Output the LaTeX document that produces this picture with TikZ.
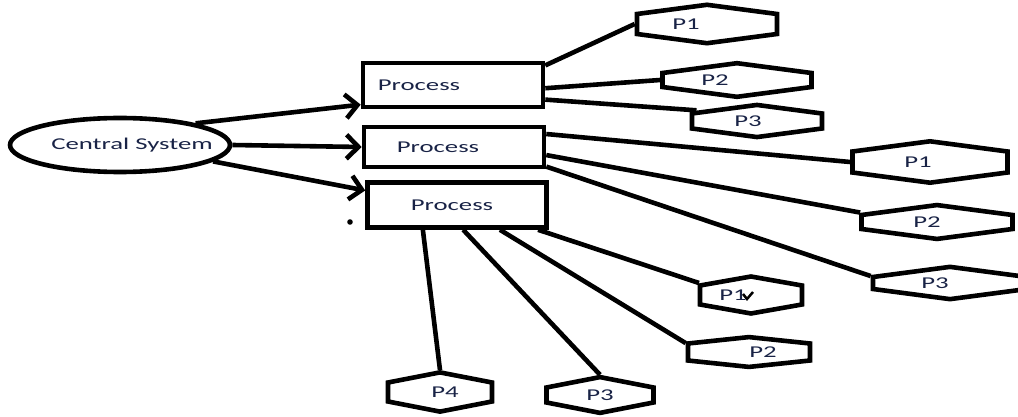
\documentclass[tikz,border=0pt]{standalone}
\usepackage{fontspec}
\newfontfamily\sketchfont[FakeStretch=1.62]{Carlito}
\usetikzlibrary{shapes.geometric,shapes.symbols,arrows.meta}
\definecolor{inkblue}{RGB}{25,35,70}

\begin{document}
\begin{tikzpicture}[x=1pt, y=-1pt, line width=4.6pt,
	>={Straight Barb[length=12pt,width=24pt]},
	every label/.style={font=\sketchfont\fontsize{16.5}{18}\selectfont, text=inkblue, inner sep=0pt},
	proc/.style={draw, rectangle, inner sep=0pt},
	hexa/.style={draw, signal, signal to=north and south, signal pointer angle=165, inner sep=0pt}]

	\useasboundingbox (0,0) rectangle (1018,417);

	% === NODES === (((
	\node[draw, ellipse, minimum width=220pt, minimum height=54pt, inner sep=0pt,
		label={[xshift=12pt]center:Central System}] (cs) at (120,145) {};

	\node[proc, minimum width=180pt, minimum height=44pt, label={[xshift=-34pt]center:Process}] (p1) at (453,85) {};
	\node[proc, minimum width=180pt, minimum height=40pt, label={[xshift=-16pt]center:Process}] (p2) at (454,147) {};
	\node[proc, minimum width=179pt, minimum height=45pt, label={[xshift=-5pt]center:Process}] (p3) at (457,205) {};

	\node[hexa, minimum width=140pt, minimum height=20pt, label={[xshift=-21pt]center:P1}] (a1) at (707,24) {};
	\node[hexa, minimum width=149pt, minimum height=14pt, label={[xshift=-22pt]center:P2}] (a2) at (737,80) {};
	\node[hexa, minimum width=130pt, minimum height=15pt, label={[xshift=-9pt]center:P3}] (a3) at (757,121) {};

	\node[hexa, minimum width=155pt, minimum height=21pt, label={[xshift=-12pt]center:P1}] (b1) at (930,162) {};
	\node[hexa, minimum width=151pt, minimum height=14pt, label={[xshift=-10pt]center:P2}] (b2) at (937,222) {};
	\node[hexa, minimum width=154pt, minimum height=12pt, label={[xshift=-15pt]center:P3}] (b3) at (950,283) {};

	\node[hexa, signal pointer angle=160, minimum width=102pt, minimum height=19pt, label={[xshift=-18pt]center:P1}] (c1) at (751,295) {};
	\node[hexa, signal pointer angle=168, minimum width=122pt, minimum height=17pt, label={[xshift=14pt]center:P2}] (c2) at (749,352) {};
	\node[hexa, signal pointer angle=158, minimum width=107pt, minimum height=15pt, label={center:P3}] (c3) at (600,395) {};
	\node[hexa, signal pointer angle=158, minimum width=104pt, minimum height=19pt, label={[xshift=5pt]center:P4}] (c4) at (440,392) {};
	% )))

	% === LINES === (((
	\draw[->] (cs.16) -- (p1.192);
	\draw[->] (cs.east) -- (p2.west);
	\draw[->] (cs.-10) -- (p3.171);

	\draw (p1.12) -- (a1.west);
	\draw (p1.-2) -- (a2.west);
	\draw (p1.-9) -- (a3.170);

	\draw (p2.8) -- (b1.west);
	\draw (p2.-5) -- (b2.173);
	\draw (p2.-12) -- (b3.175);

	\draw (p3.-17) -- (c1.167);
	\draw (p3.-30) -- (c2.172);
	\draw (p3.-76) -- (c3.north);
	\draw (p3.216) -- (c4.north);
	% )))

	% stray marks
	\fill (350,222) circle (2.8pt);
	\draw[line width=2.5pt] (743,294) -- (747,299) -- (753,292);

\end{tikzpicture}
\end{document}
